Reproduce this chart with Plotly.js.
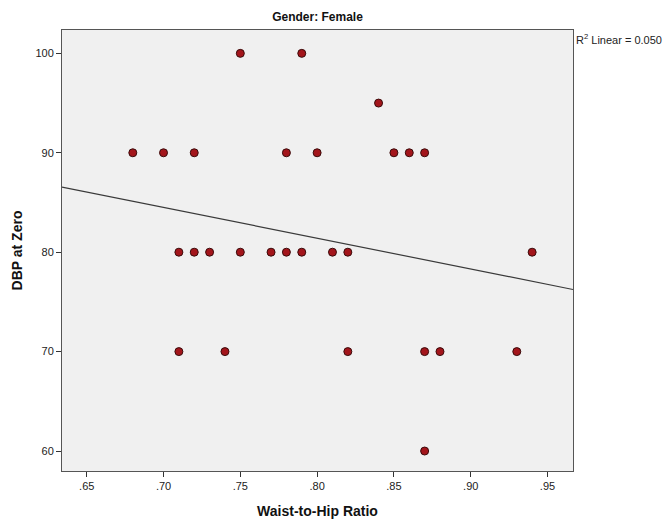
<!DOCTYPE html>
<html>
<head>
<meta charset="utf-8">
<script src="https://cdn.plot.ly/plotly-3.0.1.min.js"></script>
<style>html,body{margin:0;padding:0;background:#fff;}#chart{width:665px;height:519px;}</style>
</head>
<body>
<div id="chart"></div>
<script>
// Waist-to-hip ratio (x) and DBP at zero (y), female group
const waistHip = [0.75, 0.79,
  0.84,
  0.68, 0.70, 0.72, 0.78, 0.80, 0.85, 0.86, 0.87,
  0.71, 0.72, 0.73, 0.75, 0.77, 0.78, 0.79, 0.81, 0.82, 0.94,
  0.71, 0.74, 0.82, 0.87, 0.88, 0.93,
  0.87];
const dbp = [100, 100,
  95,
  90, 90, 90, 90, 90, 90, 90, 90,
  80, 80, 80, 80, 80, 80, 80, 80, 80, 80,
  70, 70, 70, 70, 70, 70,
  60];
// Linear fit as shown in the chart (R² Linear = 0.050)
const fitIntercept = 106.2;
const fitSlope = -30.99;
const fitR2 = "0.050";
const xTickVals = [0.65, 0.70, 0.75, 0.80, 0.85, 0.90, 0.95];
const xTickText = [".65", ".70", ".75", ".80", ".85", ".90", ".95"];
const yTickVals = [60, 70, 80, 90, 100];

const xRange = [0.6339, 0.9666];
const yRange = [57.99, 102.35];
const fitX = xRange.slice();
const fitY = fitX.map(x => fitIntercept + fitSlope * x);

const font = "Liberation Sans, Arial, sans-serif";

const traces = [
  {
    x: fitX, y: fitY, type: 'scatter', mode: 'lines',
    line: {color: '#3a3a3a', width: 1.2},
    hoverinfo: 'skip', showlegend: false
  },
  {
    x: waistHip, y: dbp, type: 'scatter', mode: 'markers',
    marker: {size: 8, color: '#a3151b', line: {color: '#3a0b0b', width: 1}},
    showlegend: false
  }
];

const layout = {
  width: 665, height: 519,
  margin: {l: 62, r: 92, t: 30, b: 48},
  paper_bgcolor: '#ffffff',
  plot_bgcolor: '#f0f0f0',
  font: {family: font, color: '#222', size: 11},
  title: {text: '<b>Gender: Female</b>', font: {family: font, size: 12, color: '#111'},
          x: 0.5, xref: 'paper', y: 0.967, yref: 'container', xanchor: 'center', yanchor: 'middle'},
  xaxis: {
    range: xRange, tickmode: 'array', tickvals: xTickVals, ticktext: xTickText,
    ticks: 'outside', ticklen: 5, tickcolor: '#333', tickwidth: 1,
    showgrid: false, zeroline: false,
    showline: true, linecolor: '#555', linewidth: 1, mirror: true,
    tickfont: {family: font, size: 11, color: '#222'},
    title: {text: '<b>Waist-to-Hip Ratio</b>', font: {family: font, size: 14, color: '#111'}, standoff: 14}
  },
  yaxis: {
    range: yRange, tickmode: 'array', tickvals: yTickVals,
    ticks: 'outside', ticklen: 5, tickcolor: '#333', tickwidth: 1,
    showgrid: false, zeroline: false,
    showline: true, linecolor: '#555', linewidth: 1, mirror: true,
    tickfont: {family: font, size: 11, color: '#222'},
    title: {text: '<b>DBP at Zero</b>', font: {family: font, size: 14, color: '#111'}, standoff: 9}
  },
  annotations: [{
    text: 'R<sup>2</sup> Linear = ' + fitR2,
    xref: 'paper', yref: 'paper', x: 1.0, y: 1.0, xanchor: 'left', yanchor: 'top',
    xshift: 1, yshift: 0, showarrow: false,
    font: {family: font, size: 11, color: '#222'}
  }]
};

Plotly.newPlot('chart', traces, layout, {displayModeBar: false, staticPlot: true});
</script>
</body>
</html>
